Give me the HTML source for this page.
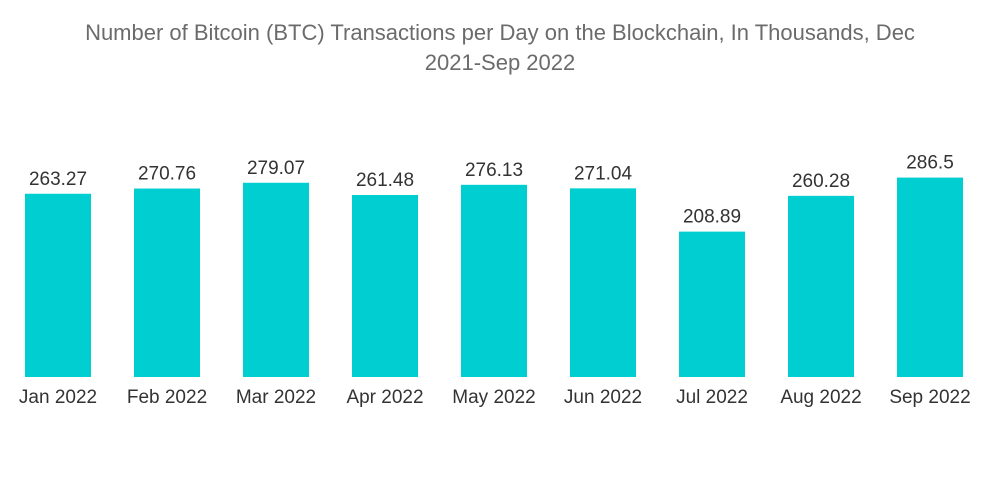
<!DOCTYPE html>
<html><head><meta charset="utf-8"><style>
body{margin:0;background:#fff;width:1000px;height:504px;overflow:hidden;font-family:"Liberation Sans",sans-serif}
#title{position:absolute;left:0;top:18px;width:1000px;text-align:center;color:#6b6b6b;font-size:22px;line-height:30px}
svg{position:absolute;left:0;top:0}
</style></head><body>
<div id="title">Number of Bitcoin (BTC) Transactions per Day on the Blockchain, In Thousands, Dec<br>2021-Sep 2022</div>
<svg id="chart" width="1000" height="504"></svg>
<script>
const categories=["Jan 2022","Feb 2022","Mar 2022","Apr 2022","May 2022","Jun 2022","Jul 2022","Aug 2022","Sep 2022"];
const values=[263.27,270.76,279.07,261.48,276.13,271.04,208.89,260.28,286.5];
const valueLabels=["263.27","270.76","279.07","261.48","276.13","271.04","208.89","260.28","286.5"];
const svg=document.getElementById('chart');const NS='http://www.w3.org/2000/svg';
const base=377, scale=0.696, x0=25, step=109, bw=66;
function y(v){return base-v*scale;}
function x(i){return x0+i*step;}
categories.forEach((c,i)=>{
 const r=document.createElementNS(NS,'rect');
 r.setAttribute('x',x(i));r.setAttribute('y',y(values[i]));r.setAttribute('width',bw);r.setAttribute('height',base-y(values[i]));r.setAttribute('fill','#00ced1');
 
 
 svg.appendChild(r);
 const t=document.createElementNS(NS,'text');
 t.setAttribute('x',x(i)+bw/2);t.setAttribute('y',y(values[i])-9);t.setAttribute('text-anchor','middle');t.setAttribute('font-size','19');t.setAttribute('fill','#333');t.setAttribute('font-family','Liberation Sans');
 t.textContent=valueLabels[i];
 
 
 svg.appendChild(t);
 const l=document.createElementNS(NS,'text');
 l.setAttribute('x',x(i)+bw/2);l.setAttribute('y',403);l.setAttribute('text-anchor','middle');l.setAttribute('font-size','19');l.setAttribute('fill','#333');l.setAttribute('font-family','Liberation Sans');
 l.textContent=c;
 
 
 svg.appendChild(l);
});
</script>
</body></html>
